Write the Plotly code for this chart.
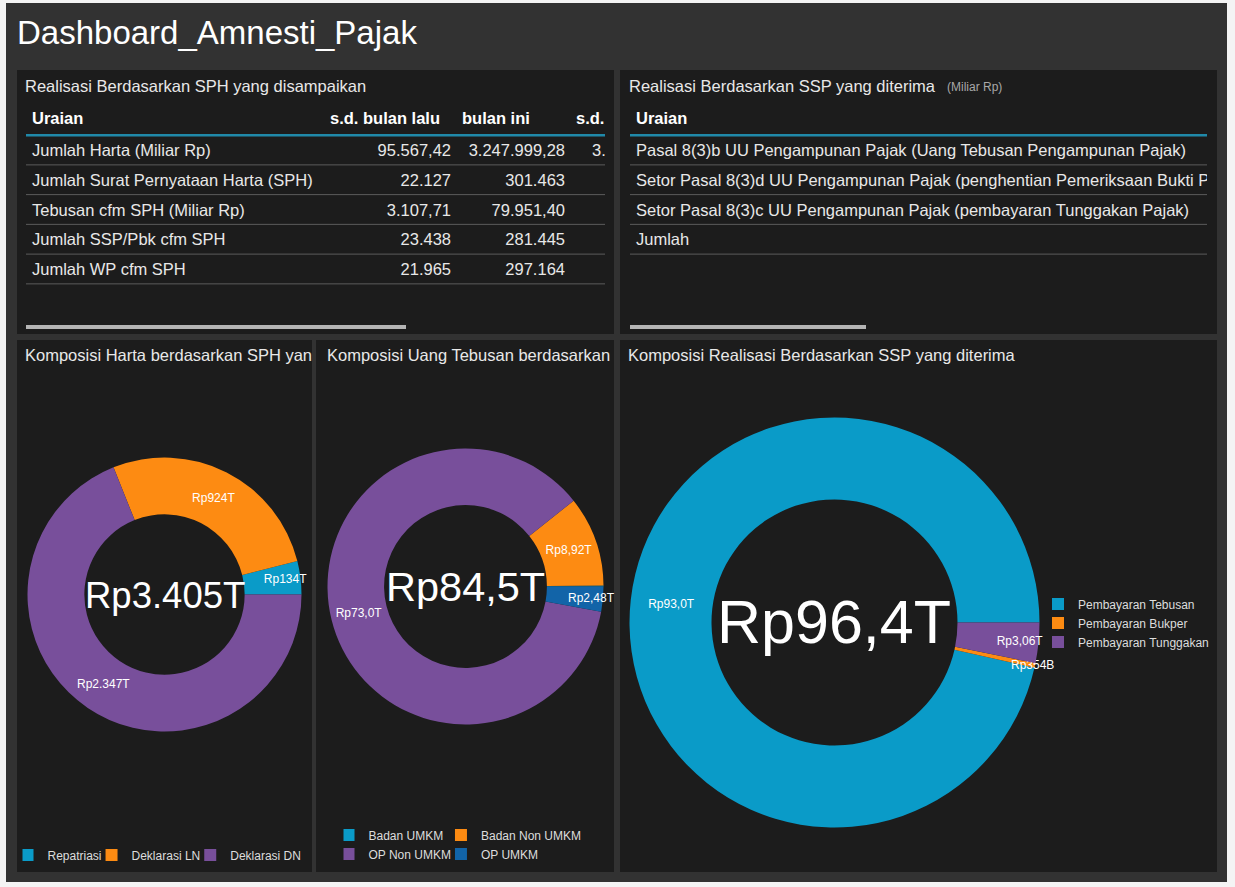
import plotly.graph_objects as go

W, H = 1235, 887
FONT = "Liberation Sans, Arial, sans-serif"

# ---------------- data (text as visible in the panels) ----------------
main_title = "Dashboard_Amnesti_Pajak"

sph_title = "Realisasi Berdasarkan SPH yang disampaikan"
sph_columns = ["Uraian", "s.d. bulan lalu", "bulan ini", "s.d."]
sph_uraian = ["Jumlah Harta (Miliar Rp)", "Jumlah Surat Pernyataan Harta (SPH)",
              "Tebusan cfm SPH (Miliar Rp)", "Jumlah SSP/Pbk cfm SPH", "Jumlah WP cfm SPH"]
sph_sd_bulan_lalu = ["95.567,42", "22.127", "3.107,71", "23.438", "21.965"]
sph_bulan_ini = ["3.247.999,28", "301.463", "79.951,40", "281.445", "297.164"]
sph_sd_visible = ["3.", "", "", "", ""]

ssp_title = "Realisasi Berdasarkan SSP yang diterima"
ssp_unit = "(Miliar Rp)"
ssp_columns = ["Uraian"]
ssp_uraian = ["Pasal 8(3)b UU Pengampunan Pajak (Uang Tebusan Pengampunan Pajak)",
              "Setor Pasal 8(3)d UU Pengampunan Pajak (penghentian Pemeriksaan Bukti P",
              "Setor Pasal 8(3)c UU Pengampunan Pajak (pembayaran Tunggakan Pajak)",
              "Jumlah"]

harta_title = "Komposisi Harta berdasarkan SPH yan"
harta_labels = ["Repatriasi", "Deklarasi LN", "Deklarasi DN"]
harta_values = [134, 924, 2347]
harta_text = ["Rp134T", "Rp924T", "Rp2.347T"]
harta_total = "Rp3.405T"

tebusan_title = "Komposisi Uang Tebusan berdasarkan"
tebusan_labels = ["Badan UMKM", "Badan Non UMKM", "OP Non UMKM", "OP UMKM"]
tebusan_values = [0.1, 8.92, 73.0, 2.48]
tebusan_text = ["", "Rp8,92T", "Rp73,0T", "Rp2,48T"]
tebusan_total = "Rp84,5T"

sspc_title = "Komposisi Realisasi Berdasarkan SSP yang diterima"
sspc_labels = ["Pembayaran Tebusan", "Pembayaran Bukper", "Pembayaran Tunggakan"]
sspc_values = [93.0, 0.354, 3.06]
sspc_text = ["Rp93,0T", "Rp354B", "Rp3,06T"]
sspc_total = "Rp96,4T"

# ---------------- styles ----------------
PAGE = "#f4f4f4"
FRAME = "#323232"
PANEL = "#1c1c1c"
SCROLL = "#b4b4b4"
SEP = "#5c5c5c"
HEADLINE = "#2089a9"
TXT = "#e8e8e8"
TEAL, ORANGE, PURPLE, BLUE = "#0a9bc8", "#fd8b12", "#784f9b", "#1264a8"
harta_colors = [TEAL, ORANGE, PURPLE]
tebusan_colors = [TEAL, ORANGE, PURPLE, BLUE]
sspc_colors = [TEAL, ORANGE, PURPLE]


def px(x):
    return x / W


def py(y):
    return 1 - y / H


fig = go.Figure()
shapes = []
annotations = []


def rect(x0, y0, x1, y1, color):
    shapes.append(dict(type="rect", xref="paper", yref="paper",
                       x0=px(x0), x1=px(x1), y0=py(y1), y1=py(y0),
                       fillcolor=color, line=dict(width=0), layer="below"))


def label(x, y, text, size=16.5, color=TXT, xanchor="left"):
    annotations.append(dict(xref="paper", yref="paper", x=px(x), y=py(y), text=text,
                            showarrow=False, xanchor=xanchor, yanchor="middle",
                            font=dict(family=FONT, size=size, color=color)))


# frame and panels
rect(6, 3, 1227, 882, FRAME)
for p in [(17, 70, 614, 334), (620, 70, 1217, 334), (17, 340, 312, 872),
          (316, 340, 614, 872), (620, 340, 1217, 872)]:
    rect(*p, PANEL)
rect(26, 325, 406, 329, SCROLL)
rect(630, 325, 866, 329, SCROLL)

label(15, 32, main_title, size=33, color="white")
label(23, 86, sph_title)
label(627, 86, ssp_title)
label(945, 87.5, ssp_unit, size=12, color="#a8a8a8")
label(23, 355, harta_title)
label(325, 355, tebusan_title)
label(626, 355, sspc_title)

# ---------------- tables (text traces on hidden axes, clipped) ----------------
ROW_PX = 29.75
ROW1_Y = 150
TEXT_SHIFT = 2 / ROW_PX
TBL_TOP, TBL_BOT = 100, 300
yrange = [1 + (TBL_BOT - ROW1_Y) / ROW_PX, 1 - (ROW1_Y - TBL_TOP) / ROW_PX]


def table(xa, ya, columns, cols, head_x, cell_x, cell_pos, nrows):
    fig.add_trace(go.Scatter(
        x=head_x, y=[0] * len(columns), mode="text",
        text=["<b>%s</b>" % c for c in columns], textposition="middle right",
        textfont=dict(family=FONT, size=16.5, color="white"),
        xaxis=xa, yaxis=ya, hoverinfo="skip", showlegend=False, cliponaxis=True))
    for vals, x, pos in zip(cols, cell_x, cell_pos):
        fig.add_trace(go.Scatter(
            x=[x] * len(vals), y=[i + 1 + TEXT_SHIFT for i in range(len(vals))], mode="text",
            text=vals, textposition=pos,
            textfont=dict(family=FONT, size=16.5, color=TXT),
            xaxis=xa, yaxis=ya, hoverinfo="skip", showlegend=False, cliponaxis=True))
    axref = xa + " domain"
    shapes.append(dict(type="line", xref=axref, yref=ya, x0=0, x1=1, y0=0.5, y1=0.5,
                       line=dict(color=HEADLINE, width=2.5)))
    for i in range(1, nrows + 1):
        shapes.append(dict(type="line", xref=axref, yref=ya, x0=0, x1=1,
                           y0=i + 0.5, y1=i + 0.5, line=dict(color=SEP, width=1)))


table("x", "y", sph_columns,
      [sph_uraian, sph_sd_bulan_lalu, sph_bulan_ini, sph_sd_visible],
      [32, 330, 462, 576], [32, 451, 565, 592],
      ["middle right", "middle left", "middle left", "middle right"], len(sph_uraian))
table("x2", "y2", ssp_columns, [ssp_uraian], [636], [636], ["middle right"], len(ssp_uraian))


# ---------------- donuts ----------------
def pie(values, labels, colors, text, cx, cy, r, hole, legend, showlegend):
    # first slice starts at 3 o'clock and runs counterclockwise
    rot = 90 - 360.0 * values[0] / sum(values)
    fig.add_trace(go.Pie(
        values=values, labels=labels, text=text, textinfo="text", sort=False,
        direction="counterclockwise", rotation=rot, hole=hole,
        marker=dict(colors=colors, line=dict(width=0)),
        textposition="inside", insidetextorientation="horizontal",
        textfont=dict(family=FONT, size=12, color="white"),
        domain=dict(x=[px(cx - r), px(cx + r)], y=[py(cy + r), py(cy - r)]),
        legend=legend, showlegend=showlegend, hoverinfo="label+value"))


pie(harta_values, harta_labels, harta_colors, harta_text, 164.5, 594.5, 137, 0.585, "legend", True)
pie(tebusan_values, tebusan_labels, tebusan_colors, tebusan_text, 465.5, 586.5, 138, 0.59, "legend2", False)
pie(sspc_values, sspc_labels, sspc_colors, sspc_text, 834.5, 622.5, 205, 0.6, "legend3", True)

label(164.5, 595, harta_total, size=36.5, color="white", xanchor="center")
label(465.5, 586, tebusan_total, size=41.5, color="white", xanchor="center")
label(834.5, 622, sspc_total, size=61, color="white", xanchor="center")

# legend for middle donut in two columns (grouped horizontal legend)
for col in (0, 1):
    for i in range(col, len(tebusan_labels), 2):
        fig.add_trace(go.Scatter(
            x=[None], y=[None], mode="markers", name=tebusan_labels[i],
            marker=dict(symbol="square", size=12, color=tebusan_colors[i]),
            legend="legend2", legendgroup="c%d" % col, showlegend=True,
            xaxis="x", yaxis="y", hoverinfo="skip"))

legend_font = dict(family=FONT, size=12, color="#dddddd")
ax = dict(visible=False, fixedrange=True, showgrid=False, zeroline=False)
fig.update_layout(
    width=W, height=H, margin=dict(l=0, r=0, t=0, b=0),
    paper_bgcolor=PAGE, plot_bgcolor="rgba(0,0,0,0)",
    shapes=shapes, annotations=annotations,
    uniformtext=dict(mode="show", minsize=12),
    xaxis=dict(ax, domain=[px(26), px(605)], range=[26, 605], anchor="y"),
    yaxis=dict(ax, domain=[py(TBL_BOT), py(TBL_TOP)], range=yrange, anchor="x"),
    xaxis2=dict(ax, domain=[px(630), px(1207)], range=[630, 1207], anchor="y2"),
    yaxis2=dict(ax, domain=[py(TBL_BOT), py(TBL_TOP)], range=yrange, anchor="x2"),
    legend=dict(orientation="h", x=px(164.5), xanchor="center", y=py(855), yanchor="middle",
                font=legend_font, bgcolor="rgba(0,0,0,0)", indentation=-15),
    legend2=dict(orientation="h", traceorder="grouped", tracegroupgap=2,
                 x=px(465), xanchor="center", y=py(844.5), yanchor="middle",
                 font=legend_font, bgcolor="rgba(0,0,0,0)", indentation=-15),
    legend3=dict(orientation="v", x=px(1044), xanchor="left", y=py(623), yanchor="middle",
                 font=legend_font, bgcolor="rgba(0,0,0,0)", indentation=-6),
    hovermode=False,
)

fig.write_html("out.html", config={"displayModeBar": False},
               post_script="document.body.style.margin='0';document.body.style.overflow='hidden';")
